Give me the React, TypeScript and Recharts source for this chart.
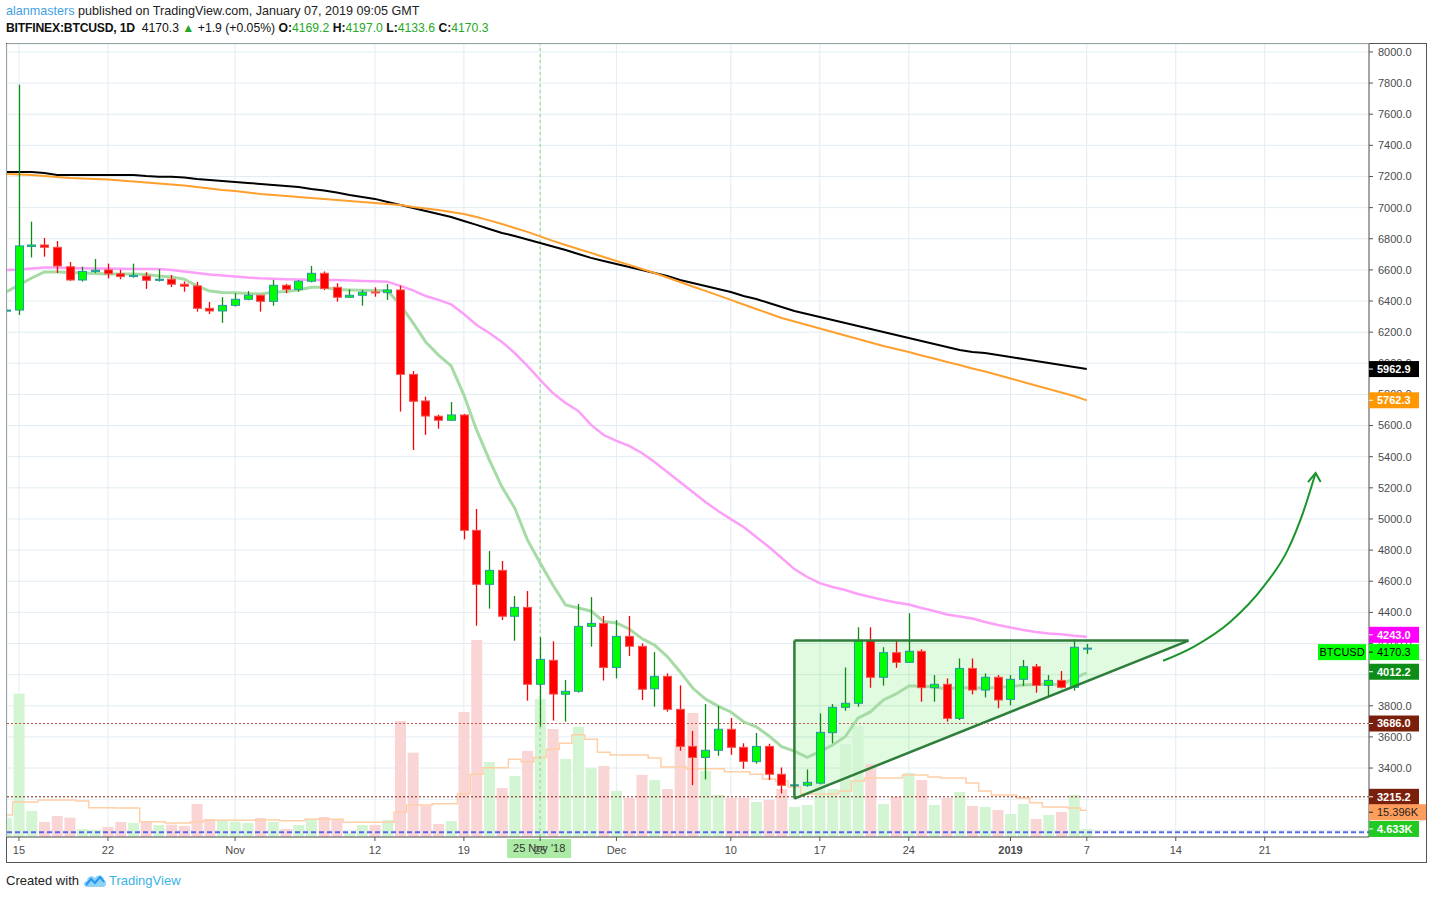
import {
  Area,
  Bar,
  CartesianGrid,
  ComposedChart,
  Line,
  ReferenceLine,
  XAxis,
  YAxis,
} from "recharts";

const FONT = '"Liberation Sans", Arial, sans-serif';

// day 0 = 15 Oct 2018, first row is 14 Oct (day -1)
const FIRST_DAY = -1;

const OPEN = [
  6335, 6342, 6750, 6760, 6745, 6620, 6535, 6590, 6600, 6575,
  6557, 6560, 6533, 6540, 6508, 6497, 6353, 6336, 6372, 6411,
  6437, 6398, 6501, 6475, 6527, 6578, 6488, 6424, 6437, 6458,
  6454, 6471, 5929, 5758, 5660, 5634, 5668, 4927, 4580, 4670,
  4375, 4432, 3938, 4092, 3874, 3893, 4310, 4329, 4046, 4246,
  4182, 3909, 3989, 3777, 3539, 3468, 3514, 3649, 3533, 3441,
  3539, 3360, 3289, 3289, 3303, 3627, 3790, 3816, 4218, 3983,
  4141, 4079, 4150, 3916, 3938, 3719, 4040, 3901, 3983, 3841,
  3970, 4051, 3931, 3963, 3918, 4169.2,
];
const HIGH = [
  6348, 7790, 6910, 6805, 6785, 6650, 6620, 6670, 6640, 6600,
  6640, 6585, 6605, 6567, 6525, 6522, 6394, 6425, 6450, 6464,
  6440, 6535, 6510, 6535, 6625, 6590, 6514, 6475, 6471, 6488,
  6509, 6499, 5950, 5786, 5670, 5751, 5675, 5064, 4794, 4730,
  4505, 4537, 4240, 4214, 3965, 4454, 4498, 4377, 4351, 4377,
  4201, 4145, 4008, 3931, 3638, 3811, 3798, 3721, 3559, 3625,
  3556, 3404, 3300, 3391, 3751, 3811, 4046, 4304, 4304, 4176,
  4218, 4394, 4163, 3997, 3976, 4104, 4104, 4008, 3997, 3997,
  4094, 4068, 3997, 4023, 4227, 4197,
];
const LOW = [
  6330, 6310, 6680, 6685, 6580, 6530, 6525, 6580, 6545, 6540,
  6550, 6478, 6525, 6490, 6460, 6332, 6317, 6260, 6364, 6405,
  6332, 6370, 6450, 6460, 6520, 6470, 6396, 6420, 6370, 6428,
  6407, 5690, 5443, 5540, 5580, 5630, 4869, 4314, 4424, 4351,
  4218, 3833, 3666, 3705, 3698, 3885, 4180, 3962, 3976, 4120,
  3837, 3794, 3762, 3511, 3290, 3327, 3479, 3485, 3395, 3428,
  3323, 3237, 3280, 3280, 3295, 3559, 3768, 3794, 3916, 3929,
  4044, 4075, 3826, 3826, 3698, 3708, 3873, 3854, 3784, 3803,
  3927, 3884, 3858, 3912, 3897, 4133.6,
];
const CLOSE = [
  6342, 6754, 6760, 6745, 6625, 6535, 6590, 6598, 6575, 6557,
  6565, 6533, 6540, 6508, 6495, 6353, 6336, 6372, 6411, 6437,
  6398, 6501, 6475, 6527, 6578, 6480, 6424, 6437, 6456, 6453,
  6471, 5929, 5756, 5661, 5634, 5668, 4927, 4580, 4670, 4375,
  4432, 3938, 4098, 3875, 3893, 4310, 4329, 4046, 4246, 4182,
  3906, 3989, 3777, 3539, 3468, 3514, 3649, 3533, 3443, 3539,
  3360, 3289, 3292, 3308, 3629, 3790, 3816, 4218, 3983, 4141,
  4079, 4150, 3916, 3938, 3719, 4040, 3901, 3983, 3837, 3970,
  4051, 3931, 3963, 3918, 4176, 4170.3,
];
// thousands of BTC
const VOLUME_K = [
  11.1, 82.4, 15.0, 8.6, 12.1, 11.1, 4.6, 4.0, 5.8, 8.6,
  8.1, 9.2, 6.9, 7.1, 6.3, 19.0, 10.4, 9.6, 8.8, 8.1,
  10.9, 8.6, 4.6, 6.9, 10.4, 11.5, 10.4, 2.5, 6.9, 6.9,
  9.8, 66.7, 48.5, 17.8, 7.5, 9.2, 71.9, 113.3, 43.1, 28.2,
  35.1, 49.5, 79.4, 62.1, 44.9, 63.4, 39.7, 40.8, 26.5, 22.4,
  35.7, 32.8, 27.6, 56.4, 71.3, 38.0, 24.2, 22.4, 22.4, 20.1,
  21.3, 27.6, 17.3, 18.4, 33.9, 27.6, 53.5, 63.8, 42.0, 19.0,
  23.0, 36.8, 32.8, 18.4, 22.4, 25.9, 17.8, 17.3, 15.5, 13.2,
  19.0, 10.4, 12.7, 14.4, 24.2, 4.633,
];
const VOLUME_MA_K = [
  12.7, 20.1, 20.1, 21.3, 21.3, 21.3, 20.7, 16.8, 16.8, 16.7,
  16.7, 8.8, 8.8, 8.1, 8.1, 8.6, 9.6, 9.6, 9.6, 9.6,
  9.8, 9.8, 9.4, 9.4, 10.2, 10.2, 10.2, 8.5, 8.5, 8.5,
  8.5, 14.2, 18.4, 18.4, 19.1, 19.1, 24.9, 36.1, 39.8, 39.8,
  44.7, 43.1, 45.7, 50.4, 53.9, 58.8, 56.2, 48.7, 47.2, 47.2,
  47.2, 45.4, 40.3, 40.3, 39.3, 39.3, 39.3, 37.5, 37.5, 36.1,
  33.4, 32.2, 28.8, 24.7, 24.7, 24.7, 26.5, 32.2, 33.9, 33.9,
  33.9, 35.7, 35.7, 34.5, 33.9, 33.9, 31.1, 26.5, 24.2, 24.2,
  22.4, 19.7, 17.3, 17.3, 16.7, 15.4,
];
const MA_BLACK = [
  7229, 7229, 7229, 7223, 7210, 7210, 7210, 7210, 7210, 7210,
  7210, 7203, 7199, 7199, 7194, 7184, 7178, 7171, 7165, 7158,
  7152, 7146, 7139, 7133, 7120, 7110, 7097, 7081, 7068, 7056,
  7036, 7017, 6998, 6978, 6959, 6940, 6914, 6889, 6863, 6837,
  6818, 6795, 6773, 6750, 6728, 6702, 6677, 6657, 6638, 6619,
  6599, 6580, 6561, 6535, 6516, 6497, 6477, 6458, 6432, 6413,
  6387, 6362, 6336, 6317, 6297, 6278, 6259, 6240, 6220, 6201,
  6182, 6163, 6143, 6124, 6105, 6085, 6073, 6066, 6053, 6040,
  6028, 6015, 6002, 5989, 5976, 5963,
];
const MA_ORANGE = [
  7216, 7213, 7210, 7203, 7197, 7191, 7187, 7184, 7181, 7174,
  7168, 7162, 7155, 7149, 7142, 7133, 7123, 7113, 7107, 7097,
  7088, 7081, 7075, 7068, 7062, 7056, 7049, 7043, 7036, 7030,
  7023, 7017, 7004, 6995, 6985, 6972, 6959, 6940, 6918, 6895,
  6869, 6844, 6815, 6786, 6760, 6734, 6709, 6683, 6657, 6632,
  6606, 6580, 6551, 6522, 6493, 6465, 6436, 6407, 6378, 6349,
  6320, 6291, 6269, 6246, 6224, 6201, 6179, 6156, 6134, 6111,
  6092, 6073, 6050, 6031, 6008, 5989, 5967, 5947, 5925, 5902,
  5880, 5857, 5835, 5812, 5790, 5762,
];
const MA_PINK = [
  6599, 6602, 6609, 6615, 6615, 6612, 6610, 6609, 6609, 6608,
  6606, 6606, 6606, 6599, 6590, 6580, 6571, 6564, 6558, 6551,
  6546, 6543, 6540, 6538, 6537, 6535, 6535, 6532, 6529, 6527,
  6524, 6497, 6468, 6432, 6407, 6378, 6317, 6246, 6195, 6137,
  6066, 5983, 5893, 5809, 5745, 5694, 5604, 5539, 5501, 5469,
  5424, 5366, 5302, 5237, 5173, 5109, 5051, 4999, 4948, 4884,
  4820, 4749, 4678, 4627, 4588, 4563, 4544, 4518, 4499, 4479,
  4463, 4450, 4428, 4409, 4386, 4373, 4360, 4338, 4319, 4303,
  4287, 4274, 4264, 4259, 4250, 4243,
];
const MA_GREEN = [
  6458, 6503, 6548, 6587, 6587, 6583, 6580, 6577, 6574, 6574,
  6574, 6571, 6561, 6554, 6541, 6497, 6464, 6455, 6453, 6448,
  6445, 6456, 6461, 6471, 6488, 6488, 6474, 6471, 6469, 6468,
  6466, 6375, 6259, 6137, 6053, 5983, 5796, 5572, 5379, 5205,
  5070, 4865, 4717, 4576, 4447, 4428, 4409, 4341, 4332, 4293,
  4232, 4190, 4116, 4019, 3914, 3843, 3798, 3760, 3697, 3665,
  3606, 3537, 3509, 3469, 3505, 3548, 3601, 3721, 3762, 3837,
  3876, 3927, 3927, 3920, 3907, 3917, 3914, 3914, 3918, 3923,
  3933, 3936, 3940, 3933, 3978, 4012,
];

const X_TICKS = [0, 7, 17, 28, 35, 41, 47, 56, 63, 70, 78, 84, 91, 98];
const X_LABELS = ["15", "22", "Nov", "12", "19", "25", "Dec", "10", "17", "24", "2019", "7", "14", "21"];
const PRICE_TICKS = [
  3000, 3200, 3400, 3600, 3800, 4000, 4200, 4400, 4600, 4800, 5000, 5200,
  5400, 5600, 5800, 6000, 6200, 6400, 6600, 6800, 7000, 7200, 7400, 7600, 7800, 8000,
];
const PRICE_DOMAIN = [2957, 8051];
const VOLUME_DOMAIN = [0, 456];

// drawings: ascending triangle and the curved arrow
const TRIANGLE = [
  { d: 61, range: [3204, 4219] },
  { d: 92, range: [4219, 4219] },
];
const ARROW_CURVE = [
  { d: 90.0, p: 4089 },
  { d: 92.4, p: 4179 },
  { d: 95.3, p: 4340 },
  { d: 97.9, p: 4565 },
  { d: 99.8, p: 4800 },
  { d: 101.0, p: 5038 },
  { d: 102.0, p: 5295 },
];
const ARROW_HEAD = [
  { d: 101.4, p: 5237 },
  { d: 102.0, p: 5295 },
  { d: 102.4, p: 5237 },
];

const PRICE_TAGS = [
  { value: 5962.9, text: "5962.9", bg: "#000000", fg: "#ffffff", shift: 0 },
  { value: 5762.3, text: "5762.3", bg: "#ff9800", fg: "#ffffff", shift: 0 },
  { value: 4243.0, text: "4243.0", bg: "#ff00ff", fg: "#ffffff", shift: -2 },
  { value: 4170.3, text: "4170.3", bg: "#00ff00", fg: "#000000", shift: 4, plain: true, symbol: "BTCUSD" },
  { value: 4012.2, text: "4012.2", bg: "#0c8d17", fg: "#ffffff", shift: -1 },
  { value: 3686.0, text: "3686.0", bg: "#7b1f0d", fg: "#ffffff", shift: 0 },
  { value: 3215.2, text: "3215.2", bg: "#7b1f0d", fg: "#ffffff", shift: 0 },
];
const VOLUME_TAGS = [
  { value: 15.396, text: "15.396K", bg: "#ff9d5c", fg: "#222222", shift: 2, plain: true, wide: true },
  { value: 4.633, text: "4.633K", bg: "#22c922", fg: "#ffffff", shift: 0 },
];

const rows = OPEN.map((o, i) => ({
  d: i + FIRST_DAY,
  o,
  h: HIGH[i],
  l: LOW[i],
  c: CLOSE[i],
  hl: [LOW[i], HIGH[i]],
  v: VOLUME_K[i],
  vma: VOLUME_MA_K[i],
  black: MA_BLACK[i],
  orange: MA_ORANGE[i],
  pink: MA_PINK[i],
  green: MA_GREEN[i],
}));

function Candle(props: any) {
  const { x, y, width, height, payload } = props;
  const { o, h, l, c } = payload;
  if (!(h > l) || !height) return null;
  const k = height / (h - l);
  const py = (v: number) => y + (h - v) * k;
  const up = c >= o;
  const cx = Math.round(x + width / 2) + 0.5;
  const top = py(Math.max(o, c));
  const bodyH = Math.max(py(Math.min(o, c)) - top, 1);
  return (
    <g>
      <line x1={cx} x2={cx} y1={y} y2={y + height} stroke={up ? "#0e8c12" : "#ff0000"} strokeWidth={1.3} />
      <rect
        x={cx - 4}
        y={top}
        width={8}
        height={bodyH}
        fill={up ? "#00ff00" : "#ff0000"}
        stroke={up ? "#2997a3" : "#f4534f"}
        strokeWidth={1}
      />
    </g>
  );
}

function VolumeBar(props: any) {
  const { x, y, width, height, payload } = props;
  if (!height) return null;
  return (
    <rect
      x={x}
      y={y}
      width={width}
      height={height}
      fill={payload.c >= payload.o ? "#d3f5d3" : "#f9d5d5"}
    />
  );
}

function XTick(props: any) {
  const { x, y, payload } = props;
  const label = X_LABELS[X_TICKS.indexOf(payload.value)];
  return (
    <text
      x={x}
      y={y}
      dy="0.71em"
      textAnchor="middle"
      fontFamily={FONT}
      fontSize={11}
      fontWeight={label === "2019" ? 700 : 400}
      fill="#4b4b4b"
    >
      {label}
    </text>
  );
}

// last-value tags drawn on the price scale (as ticks of mirrored axes);
// dx compensates for the second mirrored axis being stacked one width inwards
function makeTagTick(tags: any[], dx: number) {
  return function TagTick(props: any) {
    const { y, payload } = props;
    const x = props.x + dx;
    const tag = tags.find((t) => t.value === payload.value);
    if (!tag) return null;
    const yy = y + tag.shift;
    return (
      <g>
        {tag.symbol ? (
          <g>
            <rect x={x - 51} y={yy - 8} width={48} height={16} fill={tag.bg} />
            <text x={x - 27} y={yy} dy="0.35em" textAnchor="middle" fontFamily={FONT} fontSize={11} fill="#000">
              {tag.symbol}
            </text>
          </g>
        ) : null}
        <rect x={x} y={yy - 8} width={tag.wide ? 57 : 50} height={16} fill={tag.bg} />
        <line x1={x} x2={x + 4} y1={yy} y2={yy} stroke={tag.fg} />
        <text
          x={x + 8}
          y={yy}
          dy="0.35em"
          textAnchor="start"
          fontFamily={FONT}
          fontSize={11}
          fontWeight={tag.plain ? 400 : 700}
          fill={tag.fg}
        >
          {tag.text}
        </text>
      </g>
    );
  };
}
const TAG_AXIS_WIDTH = 57;
const PriceTagTick = makeTagTick(PRICE_TAGS, 0);
const VolumeTagTick = makeTagTick(VOLUME_TAGS, TAG_AXIS_WIDTH);

function CrossLabel({ viewBox }: any) {
  if (!viewBox) return null;
  const x = viewBox.x;
  const y = viewBox.y + viewBox.height;
  return (
    <g>
      <rect x={x - 33} y={y + 2} width={64} height={19} fill="#abeba6" />
      <text x={x - 1} y={y + 11.5} dy="0.35em" textAnchor="middle" fontFamily={FONT} fontSize={11} fill="#333">
        25 Nov '18
      </text>
    </g>
  );
}

function TVLogo() {
  return (
    <svg width={24} height={16} viewBox="0 0 24 16" style={{ verticalAlign: "-3px", margin: "0 2px 0 4px" }}>
      <path d="M4 15 C0 15 0 9 4 9 C4 4 10 3 12 6 C14 2 21 3 21 8 C24 9 24 15 20 15 Z" fill="#8fd3f4" />
      <path d="M3 13 L8 7 L12 11 L17 5 L21 10" fill="none" stroke="#2196f3" strokeWidth={2} />
    </svg>
  );
}

export default function App() {
  const green = { color: "#26a826" };
  return (
    <div
      style={{
        position: "fixed",
        left: 0,
        top: 0,
        width: 1433,
        height: 899,
        background: "#fff",
        overflow: "hidden",
        fontFamily: FONT,
      }}
    >
      <div style={{ position: "absolute", left: 6, top: 4, fontSize: 12.6, color: "#222", whiteSpace: "nowrap" }}>
        <span style={{ color: "#3fa0e3" }}>alanmasters</span> published on TradingView.com, January 07, 2019 09:05 GMT
      </div>
      <div style={{ position: "absolute", left: 6, top: 21, fontSize: 12.2, color: "#111", whiteSpace: "nowrap" }}>
        <b style={{ letterSpacing: -0.2 }}>BITFINEX:BTCUSD, 1D</b>&nbsp; 4170.3 <span style={green}>▲</span> +1.9
        (+0.05%) <b>O:</b>
        <span style={green}>4169.2</span> <b>H:</b>
        <span style={green}>4197.0</span> <b>L:</b>
        <span style={green}>4133.6</span> <b>C:</b>
        <span style={green}>4170.3</span>
      </div>

      <div
        style={{
          position: "absolute",
          left: 6,
          top: 43,
          width: 1421,
          height: 820,
          boxSizing: "border-box",
          border: "1px solid #555",
        }}
      />

      <div style={{ position: "absolute", left: 0, top: 0 }}>
        <ComposedChart
          width={1433}
          height={899}
          data={rows}
          margin={{ top: 44, right: 7, bottom: 37, left: 7 }}
        >
          <CartesianGrid xAxisId="x" yAxisId="price" stroke="#e2ecf2" strokeWidth={1} />
          <XAxis
            xAxisId="x"
            type="number"
            dataKey="d"
            domain={[-0.94, 106.2]}
            allowDataOverflow
            ticks={X_TICKS}
            interval={0}
            height={25}
            tick={<XTick />}
            tickSize={4}
            tickMargin={5}
            axisLine={{ stroke: "#555" }}
            tickLine={{ stroke: "#555" }}
          />
          <XAxis xAxisId="xv" type="number" dataKey="d" domain={[-0.94, 106.2]} allowDataOverflow hide />
          <YAxis
            yAxisId="price"
            orientation="right"
            width={57}
            domain={PRICE_DOMAIN}
            allowDataOverflow
            ticks={PRICE_TICKS}
            interval={0}
            tickFormatter={(v: number) => v.toFixed(1)}
            tick={{ fontSize: 11, fill: "#4b4b4b", fontFamily: FONT }}
            tickSize={4}
            tickMargin={5}
            axisLine={{ stroke: "#555" }}
            tickLine={{ stroke: "#555" }}
          />
          <YAxis yAxisId="vol" domain={VOLUME_DOMAIN} allowDataOverflow hide />
          <YAxis
            yAxisId="priceTags"
            orientation="right"
            mirror
            width={TAG_AXIS_WIDTH}
            domain={PRICE_DOMAIN}
            allowDataOverflow
            ticks={PRICE_TAGS.map((t) => t.value)}
            interval={0}
            axisLine={false}
            tickLine={false}
            tickSize={0}
            tickMargin={0}
            tick={<PriceTagTick />}
          />
          <YAxis
            yAxisId="volTags"
            orientation="right"
            mirror
            width={TAG_AXIS_WIDTH}
            domain={VOLUME_DOMAIN}
            allowDataOverflow
            ticks={VOLUME_TAGS.map((t) => t.value)}
            interval={0}
            axisLine={false}
            tickLine={false}
            tickSize={0}
            tickMargin={0}
            tick={<VolumeTagTick />}
          />

          <Bar
            xAxisId="xv"
            yAxisId="vol"
            dataKey="v"
            barSize={11}
            shape={<VolumeBar />}
            isAnimationActive={false}
          />
          <Line
            xAxisId="xv"
            yAxisId="vol"
            dataKey="vma"
            type="step"
            stroke="#ffcfa8"
            strokeWidth={1.5}
            dot={false}
            isAnimationActive={false}
          />
          <ReferenceLine xAxisId="xv" yAxisId="vol" y={2.7} stroke="#5a68f0" strokeWidth={2} strokeDasharray="5 3" />

          <Area
            xAxisId="x"
            yAxisId="price"
            data={TRIANGLE}
            dataKey="range"
            type="linear"
            fill="#00dd00"
            fillOpacity={0.12}
            stroke="none"
            isAnimationActive={false}
          />

          <ReferenceLine xAxisId="x" yAxisId="price" y={3686.0} stroke="#c0584e" strokeDasharray="2 2" />
          <ReferenceLine xAxisId="x" yAxisId="price" y={3215.2} stroke="#7b1f0d" strokeDasharray="2 2" />
          <ReferenceLine
            xAxisId="x"
            yAxisId="price"
            x={41}
            stroke="#86d886"
            strokeDasharray="3 3"
            label={(p: any) => <CrossLabel {...p} />}
          />

          <Line xAxisId="x" yAxisId="price" dataKey="black" stroke="#000" strokeWidth={2} dot={false} isAnimationActive={false} />
          <Line xAxisId="x" yAxisId="price" dataKey="orange" stroke="#ff9f2e" strokeWidth={2} dot={false} isAnimationActive={false} />
          <Line xAxisId="x" yAxisId="price" dataKey="pink" stroke="#fb9ff8" strokeWidth={2.5} dot={false} isAnimationActive={false} />
          <Line xAxisId="x" yAxisId="price" dataKey="green" stroke="#a6dba6" strokeWidth={3} dot={false} isAnimationActive={false} />

          <Bar
            xAxisId="x"
            yAxisId="price"
            dataKey="hl"
            barSize={9}
            shape={<Candle />}
            zIndex={450}
            isAnimationActive={false}
          />

          <Area
            xAxisId="x"
            yAxisId="price"
            data={TRIANGLE}
            dataKey="range"
            type="linear"
            fill="none"
            fillOpacity={0}
            stroke="#2e7d3a"
            strokeWidth={2.5}
            zIndex={460}
            isAnimationActive={false}
          />
          <ReferenceLine
            xAxisId="x"
            yAxisId="price"
            segment={[
              { x: TRIANGLE[0].d, y: TRIANGLE[0].range[0] },
              { x: TRIANGLE[0].d, y: TRIANGLE[0].range[1] },
            ]}
            stroke="#2e7d3a"
            strokeWidth={2.5}
            zIndex={460}
          />

          <Line
            xAxisId="x"
            yAxisId="price"
            data={ARROW_CURVE}
            dataKey="p"
            type="monotone"
            stroke="#1a952b"
            strokeWidth={2}
            dot={false}
            isAnimationActive={false}
          />
          <Line
            xAxisId="x"
            yAxisId="price"
            data={ARROW_HEAD}
            dataKey="p"
            type="linear"
            stroke="#1a952b"
            strokeWidth={2}
            dot={false}
            isAnimationActive={false}
          />
        </ComposedChart>
      </div>

      <div style={{ position: "absolute", left: 6, top: 872, fontSize: 13, color: "#222", whiteSpace: "nowrap" }}>
        Created with
        <TVLogo />
        <span style={{ color: "#3bb2e6" }}>TradingView</span>
      </div>
    </div>
  );
}
